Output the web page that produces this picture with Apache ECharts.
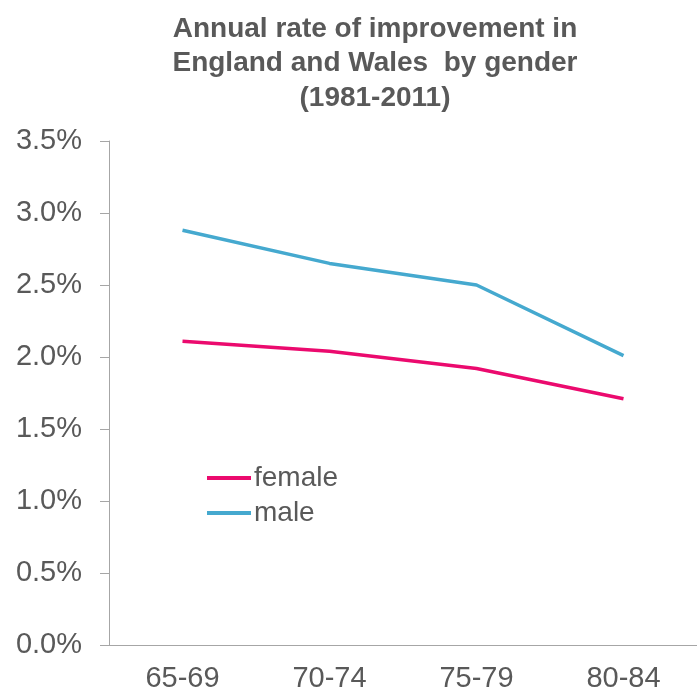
<!DOCTYPE html>
<html>
<head>
<meta charset="utf-8">
<script src="https://cdn.jsdelivr.net/npm/echarts@6/dist/echarts.min.js"></script>
<style>
  html, body { margin: 0; padding: 0; background: #fff; }
  #chart { width: 697px; height: 693px; }
</style>
</head>
<body>
<div id="chart"></div>
<script>
var ageGroups = ['65-69', '70-74', '75-79', '80-84'];
var female = [2.11, 2.04, 1.92, 1.71];
var male = [2.88, 2.65, 2.50, 2.01];

var chartDom = document.getElementById('chart');
var myChart = echarts.init(chartDom);

var grey = '#595959';
var font = 'Liberation Sans, Arial, sans-serif';

var option = {
  animation: false,
  title: {
    text: 'Annual rate of improvement in\nEngland and Wales  by gender\n(1981-2011)',
    left: 370,
    textAlign: 'center',
    top: 7,
    textStyle: {
      color: grey,
      fontFamily: font,
      fontWeight: 'bold',
      fontSize: 28,
      lineHeight: 34.5
    }
  },
  legend: {
    orient: 'vertical',
    left: 202,
    top: 459,
    itemWidth: 44,
    itemHeight: 4,
    itemGap: 7,
    icon: 'rect',
    data: ['female', 'male'],
    textStyle: { color: grey, fontFamily: font, fontSize: 28, padding: [0, 0, 0, -2] }
  },
  grid: { left: 109, right: -8, top: 141, bottom: 47 },
  xAxis: {
    type: 'category',
    data: ageGroups,
    axisLine: { lineStyle: { color: '#A6A6A6', width: 1 } },
    axisTick: { length: 10, lineStyle: { color: '#A6A6A6' } },
    axisLabel: { color: grey, fontFamily: font, fontSize: 29, margin: 19 }
  },
  yAxis: {
    type: 'value',
    min: 0,
    max: 3.5,
    interval: 0.5,
    axisLine: { show: true, lineStyle: { color: '#A6A6A6', width: 1 } },
    axisTick: { show: true, length: 9, lineStyle: { color: '#A6A6A6' } },
    splitLine: { show: false },
    axisLabel: {
      color: grey,
      fontFamily: font,
      fontSize: 29,
      margin: 27,
      formatter: function (v) { return v.toFixed(1) + '%'; }
    }
  },
  series: [
    {
      name: 'female',
      type: 'line',
      data: female,
      showSymbol: false,
      color: '#EB0A6E',
      lineStyle: { width: 3.5, color: '#EB0A6E' }
    },
    {
      name: 'male',
      type: 'line',
      data: male,
      showSymbol: false,
      color: '#45A9CF',
      lineStyle: { width: 3.5, color: '#45A9CF' }
    }
  ]
};

myChart.setOption(option);
window.addEventListener('resize', () => myChart.resize());
</script>
</body>
</html>
